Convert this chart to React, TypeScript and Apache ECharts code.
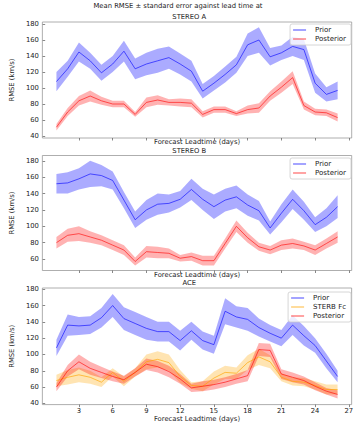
import { useEffect, useRef } from 'react';
import * as echarts from 'echarts';

const days = [1, 2, 3, 4, 5, 6, 7, 8, 9, 10, 11, 12, 13, 14, 15, 16, 17, 18, 19, 20, 21, 22, 23, 24, 25, 26];
const xTicks = [3, 6, 9, 12, 15, 18, 21, 24, 27];
const yTicks = [40, 60, 80, 100, 120, 140, 160, 180];

const stereoAPrior = [108, 124, 145, 134, 119, 130, 146, 124, 130, 134, 138, 130, 121, 96, 106, 117, 129, 154, 160, 139, 144, 152, 148, 106, 92, 97];
const stereoAPriorSe = [12, 10, 12, 10, 10, 10, 13, 13, 14, 15, 14, 13, 13, 9, 9, 10, 10, 14, 16, 11, 9, 12, 13, 12, 9, 11];
const stereoAPost = [51, 70, 84, 90, 84, 80, 80, 67, 82, 85, 82, 82, 81, 67, 73, 73, 68, 73, 75, 90, 101, 113, 78, 70, 69, 63];
const stereoAPostSe = [4, 5, 6, 7, 5, 4, 4, 3, 6, 6, 4, 5, 5, 4, 4, 4, 3, 5, 6, 6, 7, 8, 5, 4, 4, 5];

const stereoBPrior = [152, 153, 158, 164, 162, 156, 132, 108, 120, 127, 128, 133, 145, 133, 124, 132, 136, 126, 119, 98, 116, 133, 119, 102, 111, 124];
const stereoBPriorSe = [12, 13, 13, 16, 13, 11, 10, 10, 12, 13, 11, 10, 13, 13, 15, 14, 14, 13, 12, 8, 11, 12, 11, 9, 11, 14];
const stereoBPost = [80, 89, 91, 87, 83, 77, 71, 57, 69, 68, 67, 61, 63, 58, 58, 79, 100, 86, 75, 71, 77, 79, 76, 71, 79, 87];
const stereoBPostSe = [7, 8, 9, 7, 6, 6, 6, 5, 7, 7, 6, 4, 5, 6, 6, 6, 7, 6, 5, 5, 6, 6, 5, 6, 6, 7];

const acePrior = [108, 136, 135, 136, 145, 160, 144, 138, 132, 128, 128, 117, 129, 117, 112, 153, 146, 143, 133, 126, 120, 136, 123, 111, 92, 73];
const acePriorSe = [10, 13, 11, 11, 12, 14, 14, 14, 14, 12, 12, 12, 11, 11, 11, 16, 13, 14, 11, 10, 10, 12, 12, 9, 9, 7];
const aceSterb = [68, 72, 75, 72, 66, 78, 67, 78, 91, 94, 90, 73, 62, 61, 71, 78, 77, 90, 97, 91, 72, 67, 66, 62, 57, 57];
const aceSterbSe = [7, 9, 9, 8, 6, 5, 6, 5, 9, 10, 10, 8, 4, 6, 8, 8, 7, 9, 10, 8, 5, 5, 5, 5, 6, 6];
const acePost = [60, 80, 91, 83, 78, 73, 69, 78, 88, 85, 79, 70, 59, 61, 63, 66, 70, 74, 106, 105, 76, 72, 68, 61, 55, 51];
const acePostSe = [5, 7, 9, 8, 7, 6, 5, 5, 7, 7, 7, 6, 5, 6, 6, 6, 6, 7, 8, 8, 6, 6, 5, 5, 4, 5];

const FONT = 'DejaVu Sans';
const FS = 6.8;
const TXT = '#222';

const STYLES: Record<string, { line: string; band: string }> = {
  Prior: { line: 'rgba(0,0,255,0.6)', band: 'rgba(0,0,255,0.33)' },
  'STERB Fc': { line: 'rgba(255,165,0,0.65)', band: 'rgba(255,165,0,0.3)' },
  Posterior: { line: 'rgba(255,0,0,0.6)', band: 'rgba(255,0,0,0.3)' },
};

type Line = { name: string; mean: number[]; se: number[] };
type Panel = { title: string; top: number; height: number; ymin: number; ymax: number; labels: boolean; legendTop: number; lines: Line[] };

const panels: Panel[] = [
  {
    title: 'STEREO A', top: 22, height: 116, ymin: 37.5, ymax: 182.5, labels: false, legendTop: 24,
    lines: [
      { name: 'Prior', mean: stereoAPrior, se: stereoAPriorSe },
      { name: 'Posterior', mean: stereoAPost, se: stereoAPostSe },
    ],
  },
  {
    title: 'STEREO B', top: 155.5, height: 115, ymin: 46, ymax: 186.5, labels: false, legendTop: 158,
    lines: [
      { name: 'Prior', mean: stereoBPrior, se: stereoBPriorSe },
      { name: 'Posterior', mean: stereoBPost, se: stereoBPostSe },
    ],
  },
  {
    title: 'ACE', top: 288, height: 117.5, ymin: 38.5, ymax: 181.5, labels: true, legendTop: 292,
    lines: [
      { name: 'Prior', mean: acePrior, se: acePriorSe },
      { name: 'STERB Fc', mean: aceSterb, se: aceSterbSe },
      { name: 'Posterior', mean: acePost, se: acePostSe },
    ],
  },
];

function buildOption() {
  const grids: any[] = [];
  const xAxes: any[] = [];
  const yAxes: any[] = [];
  const series: any[] = [];
  const legends: any[] = [];
  const graphics: any[] = [
    {
      type: 'text', x: 178, y: 6,
      style: { text: 'Mean RMSE ± standard error against lead time at', fontFamily: FONT, fontSize: FS, fill: TXT, align: 'center', verticalAlign: 'middle' },
    },
  ];

  panels.forEach((p, i) => {
    grids.push({ left: 26.7, right: 4.3, top: p.top, height: p.height, show: true, borderColor: '#999', borderWidth: 0.8, backgroundColor: 'transparent' });
    xAxes.push({
      type: 'value', gridIndex: i, min: -0.25, max: 27.25,
      splitLine: { show: false }, axisLine: { show: false },
      axisTick: { show: true, customValues: xTicks, length: 2.5, lineStyle: { color: '#555', width: 0.7 } },
      axisLabel: { show: p.labels, customValues: xTicks, fontFamily: FONT, fontSize: FS, color: TXT, margin: 2.5 },
      name: 'Forecast Leadtime (days)', nameLocation: 'middle', nameGap: p.labels ? 9.5 : 0.8,
      nameTextStyle: { fontFamily: FONT, fontSize: FS, color: TXT },
    });
    yAxes.push({
      type: 'value', gridIndex: i, min: p.ymin, max: p.ymax,
      splitLine: { show: false }, axisLine: { show: false },
      axisTick: { show: true, customValues: yTicks, length: 2.5, lineStyle: { color: '#555', width: 0.7 } },
      axisLabel: { customValues: yTicks, fontFamily: FONT, fontSize: FS, color: TXT, margin: 3.5 },
      name: 'RMSE (km/s)', nameLocation: 'middle', nameGap: 17, nameRotate: 90,
      nameTextStyle: { fontFamily: FONT, fontSize: FS, color: TXT },
    });
    graphics.push({
      type: 'text', x: 189.3, y: p.top - 4.6,
      style: { text: p.title, fontFamily: FONT, fontSize: FS, fill: TXT, align: 'center', verticalAlign: 'middle' },
    });
    p.lines.forEach((l) => {
      const st = STYLES[l.name];
      const lo = l.mean.map((m, k) => m - l.se[k]);
      const hi = l.mean.map((m, k) => m + l.se[k]);
      series.push({
        type: 'custom', xAxisIndex: i, yAxisIndex: i, silent: true,
        data: days.map((d, k) => [d, lo[k], hi[k]]),
        encode: { x: 0, y: [1, 2] },
        renderItem: (params: any, api: any) => {
          if (params.dataIndex !== 0) return null;
          const upper = days.map((d, k) => api.coord([d, hi[k]]));
          const lower = days.map((d, k) => api.coord([d, lo[k]])).reverse();
          return { type: 'polygon', shape: { points: upper.concat(lower) }, style: { fill: st.band } };
        },
      });
      series.push({
        type: 'line', name: l.name, xAxisIndex: i, yAxisIndex: i,
        data: days.map((d, k) => [d, l.mean[k]]),
        symbol: 'none', silent: true,
        lineStyle: { color: st.line, width: 1 },
        itemStyle: { color: st.line },
      });
    });
    legends.push({
      data: p.lines.map((l) => l.name),
      orient: 'vertical', right: 5, top: p.legendTop,
      padding: [2.5, 5, 2.5, 3], itemGap: 2,
      itemWidth: 13, itemHeight: 1.2, icon: 'rect',
      borderColor: '#ccc', borderWidth: 0.8, borderRadius: 2, backgroundColor: 'rgba(255,255,255,0.8)',
      selectedMode: false,
      textStyle: { fontFamily: FONT, fontSize: 7, color: TXT, padding: [0, 0, 0, 4] },
    });
  });

  return {
    animation: false,
    backgroundColor: '#fff',
    grid: grids,
    xAxis: xAxes,
    yAxis: yAxes,
    series,
    legend: legends,
    graphic: graphics,
  };
}

export default function App() {
  const ref = useRef<HTMLDivElement>(null);
  useEffect(() => {
    const chart = echarts.init(ref.current!, null, { renderer: 'svg' });
    chart.setOption(buildOption() as any);
    return () => chart.dispose();
  }, []);
  return <div ref={ref} style={{ position: 'fixed', left: 0, top: 0, width: 356, height: 423 }} />;
}
